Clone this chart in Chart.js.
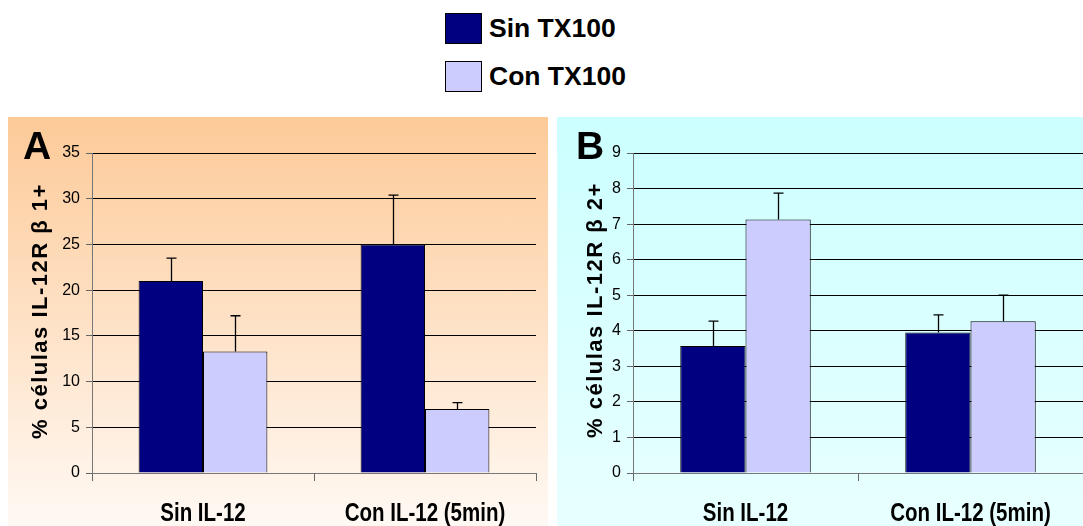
<!DOCTYPE html>
<html>
<head>
<meta charset="utf-8">
<script src="https://cdn.jsdelivr.net/npm/chart.js@4/dist/chart.umd.min.js"></script>
<style>
  body { margin: 0; width: 1083px; height: 526px; position: relative; overflow: hidden; background: #fff; font-family: 'Liberation Sans', Arial, sans-serif; }
  .panel { position: absolute; top: 117px; height: 409px; }
  #pa { left: 8px; width: 540px; background: linear-gradient(#FDCA98, #FFF9F4); }
  #pb { left: 557px; width: 526px; background: linear-gradient(#CCFFFF, #E8FFFF); }
  .panel canvas { position: absolute; left: 0; top: 0; }
  .letter { position: absolute; top: 9px; font: bold 39px/39px 'Liberation Sans', Arial, sans-serif; color: #000; }
  .ytitle { position: absolute; font: bold 22px 'Liberation Sans', Arial, sans-serif; letter-spacing: 1.5px; white-space: nowrap; color: #000;
            transform: translate(-50%, -50%) rotate(-90deg); }
  .key { position: absolute; left: 445px; width: 37px; height: 31px; box-sizing: border-box; border: 1.5px solid #000; }
  .keytext { position: absolute; left: 489px; font: bold 26.5px/31px 'Liberation Sans', Arial, sans-serif; color: #000; }
</style>
</head>
<body>
<div class="key" style="top:13px;background:#000080"></div>
<div class="keytext" style="top:13px">Sin TX100</div>
<div class="key" style="top:61px;background:#CCCCFF"></div>
<div class="keytext" style="top:61px">Con TX100</div>

<div class="panel" id="pa">
  <canvas id="chartA" width="540" height="409"></canvas>
  <div class="letter" style="left:15px">A</div>
  <div class="ytitle" style="left:32px;top:194px">% células IL-12R β 1+</div>
</div>
<div class="panel" id="pb">
  <canvas id="chartB" width="526" height="409"></canvas>
  <div class="letter" style="left:19px">B</div>
  <div class="ytitle" style="left:38px;top:193px">% células IL-12R β 2+</div>
</div>

<script>
// Categories and series
const categories = ['Sin IL-12', 'Con IL-12 (5min)'];
const seriesNames = ['Sin TX100', 'Con TX100'];
const seriesColors = ['#000080', '#CCCCFF'];

// Panel A: % IL-12R beta1+ cells
const beta1Sin = [21.0, 25.0];
const beta1Con = [13.3, 7.0];
const beta1SinErr = [2.5, 5.4];
const beta1ConErr = [3.9, 0.7];
const beta1Max = 35, beta1Step = 5;

// Panel B: % IL-12R beta2+ cells
const beta2Sin = [3.57, 3.95];
const beta2Con = [7.13, 4.27];
const beta2SinErr = [0.70, 0.50];
const beta2ConErr = [0.74, 0.73];
const beta2Max = 9, beta2Step = 1;

// Upper error whiskers with a small cap
const errorBars = {
  id: 'errorBars',
  afterDatasetsDraw(chart) {
    const ctx = chart.ctx;
    const y = chart.scales.y;
    chart.data.datasets.forEach((ds, i) => {
      const meta = chart.getDatasetMeta(i);
      meta.data.forEach((bar, j) => {
        const top = y.getPixelForValue(ds.data[j] + ds.errors[j]);
        const x = Math.round(bar.x) + 0.5;
        ctx.save();
        ctx.strokeStyle = '#000';
        ctx.lineWidth = 1.3;
        ctx.beginPath();
        ctx.moveTo(x, bar.y);
        ctx.lineTo(x, top);
        ctx.moveTo(x - 5, top);
        ctx.lineTo(x + 5, top);
        ctx.stroke();
        ctx.restore();
      });
    });
  }
};

// Category labels in a condensed bold face, centred under each category
const condensedLabels = {
  id: 'condensedLabels',
  afterDraw(chart) {
    const ctx = chart.ctx;
    const xs = chart.scales.x;
    ctx.save();
    ctx.font = "bold 25px 'Liberation Sans', Arial, sans-serif";
    ctx.fillStyle = '#000';
    ctx.textAlign = 'center';
    ctx.textBaseline = 'middle';
    chart.data.labels.forEach((lab, i) => {
      ctx.save();
      ctx.translate(xs.getPixelForTick(i), xs.top + 41);
      ctx.scale(0.82, 1);
      ctx.fillText(lab, 0, 0);
      ctx.restore();
    });
    ctx.restore();
  }
};

function makeChart(id, sin, con, sinErr, conErr, max, step, yWidth, padRight) {
  return new Chart(document.getElementById(id), {
    type: 'bar',
    data: {
      labels: categories,
      datasets: [
        { label: seriesNames[0], data: sin, errors: sinErr, backgroundColor: seriesColors[0], borderColor: '#000', borderWidth: 1 },
        { label: seriesNames[1], data: con, errors: conErr, backgroundColor: seriesColors[1], borderColor: '#000', borderWidth: 1 }
      ]
    },
    options: {
      responsive: false,
      animation: false,
      layout: { padding: { top: 36, right: padRight, left: 0, bottom: 0 } },
      plugins: { legend: { display: false }, tooltip: { enabled: false } },
      datasets: { bar: { categoryPercentage: 0.58, barPercentage: 1 } },
      scales: {
        x: {
          grid: { drawOnChartArea: false, offset: true, tickLength: 8, color: '#666' },
          border: { color: '#777' },
          ticks: { display: false },
          afterFit(s) { s.height = 53; }
        },
        y: {
          min: 0, max: max,
          ticks: { stepSize: step, font: { family: "'Liberation Sans', Arial, sans-serif", size: 16 }, color: '#000', padding: 6 },
          grid: { color: (c) => c.tick && c.tick.value === 0 ? '#777' : '#000', tickLength: 6, tickColor: '#666' },
          border: { color: '#777' },
          afterFit(s) { s.width = yWidth; }
        }
      }
    },
    plugins: [errorBars, condensedLabels]
  });
}

makeChart('chartA', beta1Sin, beta1Con, beta1SinErr, beta1ConErr, beta1Max, beta1Step, 84, 12);
makeChart('chartB', beta2Sin, beta2Con, beta2SinErr, beta2ConErr, beta2Max, beta2Step, 76, 0);
</script>
</body>
</html>
